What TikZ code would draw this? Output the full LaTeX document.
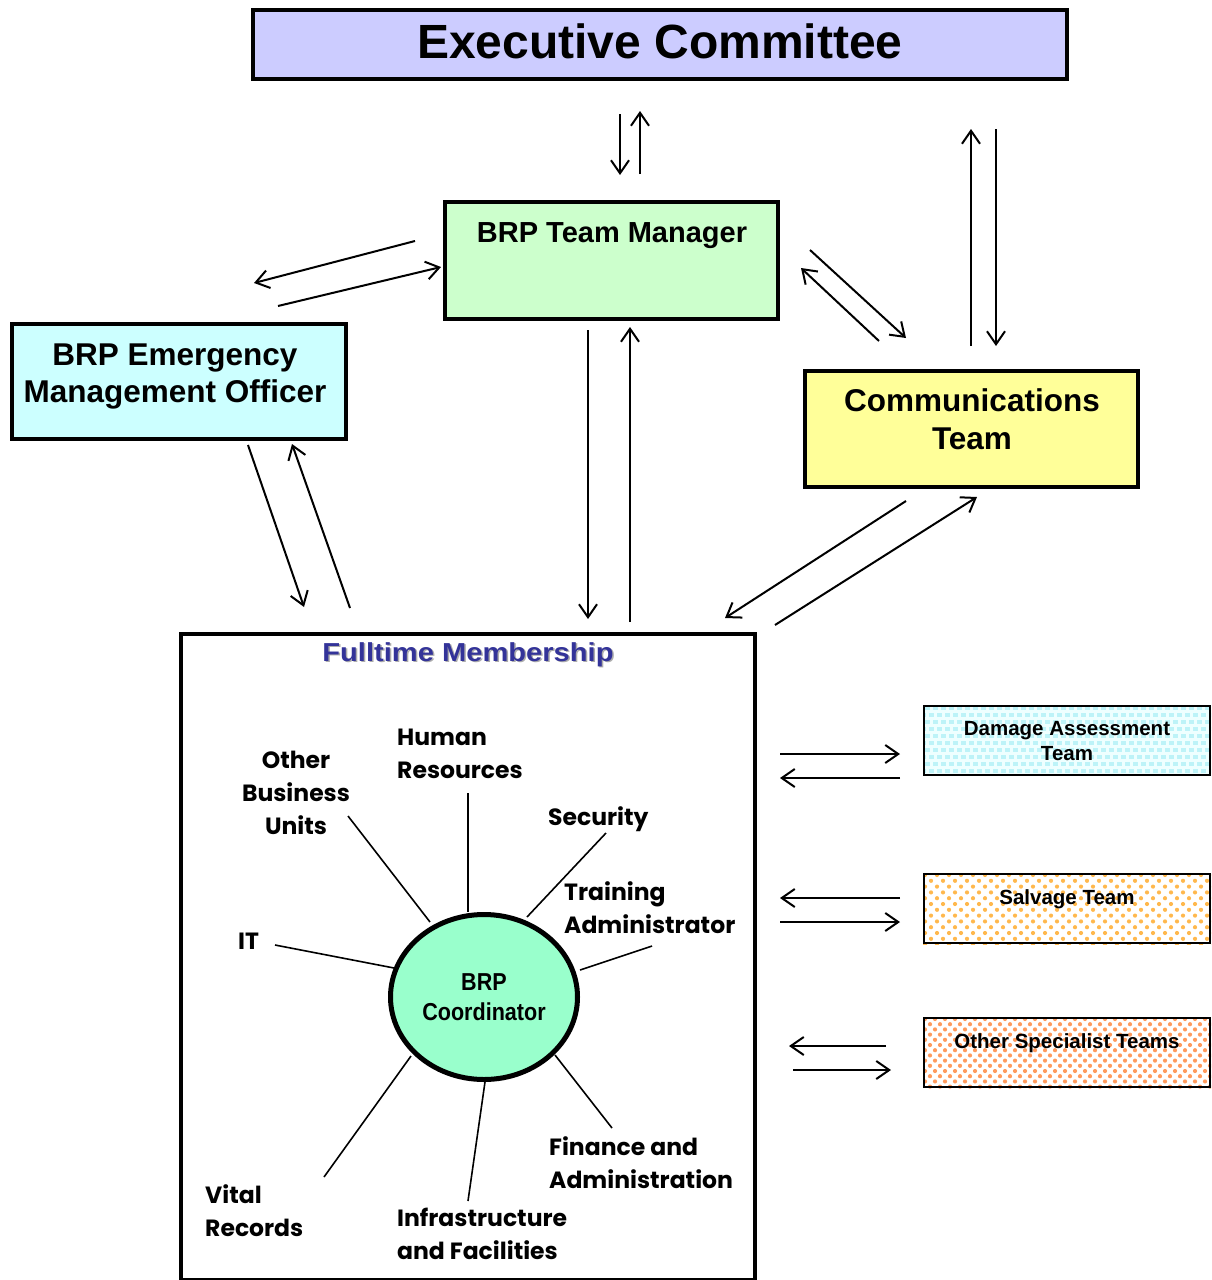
\documentclass[tikz,border=0pt]{standalone}
\usepackage{fontspec}
\setmainfont{Liberation Sans}
\newfontfamily\gothic{Poppins}
\newfontfamily\narrowsans[FakeStretch=0.88]{Liberation Sans}
\newfontfamily\widesans[FakeStretch=1.12]{Liberation Sans}
\usetikzlibrary{arrows.meta,backgrounds,shapes.geometric}

\definecolor{execfill}{HTML}{CCCCFF}
\definecolor{mgrfill}{HTML}{CCFFCC}
\definecolor{emofill}{HTML}{CCFFFF}
\definecolor{commfill}{HTML}{FFFF99}
\definecolor{coordfill}{HTML}{99FFCC}
\definecolor{titleblue}{HTML}{333399}
\definecolor{dmgbg}{HTML}{EEFFFF}
\definecolor{dmgdot}{HTML}{BDF3F8}
\definecolor{salvdot}{HTML}{FFB84D}
\definecolor{othdot}{HTML}{FF9A5C}

\tikzset{
  box/.style={draw, line width=4pt, inner sep=0pt},
  teambox/.style={draw, line width=2pt, inner sep=0pt, minimum width=286pt, minimum height=69pt},
  arr/.style={line width=2pt, -{Straight Barb[length=13pt,width=18pt]}},
  spoke/.style={line width=1.6pt},
  lbl/.style={inner sep=0pt, font=\gothic\bfseries\fontsize{23.5}{33}\selectfont},
  ttl/.style={inner sep=0pt, anchor=base},
}

\begin{document}
\begin{tikzpicture}[x=1pt,y=-1pt]
\useasboundingbox (0,0) rectangle (1212,1280);

% ---------- main boxes ----------
\node[box, fill=execfill, minimum width=814pt, minimum height=69pt] (exec) at (660,44.5) {};
\node[ttl, font=\bfseries\fontsize{48}{56}\selectfont] (exect) at (660,58) {Executive Committee};

\node[box, fill=mgrfill, minimum width=333pt, minimum height=117pt] (mgr) at (611.5,260.5) {};
\node[ttl, font=\bfseries\fontsize{29}{36}\selectfont] (mgrt) at (612,242) {BRP Team Manager};

\node[box, fill=emofill, minimum width=334pt, minimum height=115pt] (emo) at (179,381.5) {};
\node[ttl, font=\bfseries\fontsize{31.5}{37}\selectfont] (emot1) at (175,365) {BRP Emergency};
\node[ttl, font=\bfseries\fontsize{31.5}{37}\selectfont] (emot2) at (175,402) {Management Officer};

\node[box, fill=commfill, minimum width=333pt, minimum height=116pt] (comm) at (971.5,429) {};
\node[ttl, font=\bfseries\fontsize{31.5}{37}\selectfont] (commt1) at (972,411) {Communications};
\node[ttl, font=\bfseries\fontsize{31.5}{37}\selectfont] (commt2) at (972,449) {Team};

% ---------- fulltime membership ----------
\node[box, minimum width=574pt, minimum height=646pt] (ft) at (468,957) {};
\node[ttl, text=gray!65, font=\widesans\bfseries\fontsize{26}{30}\selectfont] (ftsh) at (469.5,662.5) {Fulltime Membership};
\node[ttl, text=titleblue, font=\widesans\bfseries\fontsize{26}{30}\selectfont] (ftt) at (468,661) {Fulltime Membership};

\node[draw, ellipse, line width=5pt, fill=coordfill, minimum width=187pt, minimum height=165pt, inner sep=0pt] (coord) at (484,997) {};
\node[ttl, font=\narrowsans\bfseries\fontsize{24.5}{28}\selectfont] (coordt1) at (484,990) {BRP};
\node[ttl, font=\narrowsans\bfseries\fontsize{24.5}{28}\selectfont] (coordt2) at (484,1020) {Coordinator};

% member labels
\node[lbl, align=left, anchor=north west] (hr) at (397,729) {Human\\Resources};
\node[lbl, align=center, anchor=north] (obu) at (296,751) {Other\\Business\\Units};
\node[lbl, align=left, anchor=north west] (sec) at (548,806) {Security};
\node[lbl, align=left, anchor=north west] (trn) at (564,881) {Training\\Administrator};
\node[lbl, align=left, anchor=north west] (it) at (238,933) {IT};
\node[lbl, align=left, anchor=north west] (vr) at (205,1184) {Vital\\Records};
\node[lbl, align=left, anchor=north west] (inf) at (397,1208) {Infrastructure\\and Facilities};
\node[lbl, align=left, anchor=north west] (fin) at (549,1136) {Finance and\\Administration};

% spokes from the labels to the coordinator
\coordinate (s-hr) at (468,793);   \coordinate (c-hr) at (468,912);
\coordinate (s-obu) at (348,816);  \coordinate (c-obu) at (430,922);
\coordinate (s-sec) at (606,833);  \coordinate (c-sec) at (527,917);
\coordinate (s-trn) at (652,946);  \coordinate (c-trn) at (580,970);
\coordinate (s-it) at (275,945);   \coordinate (c-it) at (394,968);
\coordinate (s-vr) at (324,1177);  \coordinate (c-vr) at (411,1056);
\coordinate (s-inf) at (468,1201); \coordinate (c-inf) at (485,1082);
\coordinate (s-fin) at (612,1128); \coordinate (c-fin) at (555,1055);
\foreach \k in {hr,obu,sec,trn,it,vr,inf,fin} \draw[spoke] (s-\k) -- (c-\k);

% ---------- specialist teams ----------
\node[teambox] (dmg) at (1067,740.5) {};
\node[ttl, font=\bfseries\fontsize{20.5}{25}\selectfont] (dmgt1) at (1067,735.5) {Damage Assessment};
\node[ttl, font=\bfseries\fontsize{20.5}{25}\selectfont] (dmgt2) at (1067,760.5) {Team};

\node[teambox] (salv) at (1067,908.5) {};
\node[ttl, font=\bfseries\fontsize{20.5}{25}\selectfont] (salvt) at (1067,904.5) {Salvage Team};

\node[teambox] (oth) at (1067,1052.5) {};
\node[ttl, font=\bfseries\fontsize{20.5}{25}\selectfont] (otht) at (1067,1048.5) {Other Specialist Teams};

% dotted fills behind the team boxes
\begin{scope}[on background layer]
  \begin{scope}
    \clip (dmg.south west) rectangle (dmg.north east);
    \fill[dmgbg] (dmg.south west) rectangle (dmg.north east);
    \foreach \j in {0,...,10} \foreach \i in {0,...,37}
      \fill[dmgdot] ({921+\i*8+mod(\j,2)*4},{703+\j*7}) rectangle ++(4.5pt,4.5pt);
  \end{scope}
  \begin{scope}
    \clip (salv.south west) rectangle (salv.north east);
    \foreach \j in {0,...,13} \foreach \i in {0,...,25}
      \fill[salvdot] ({925+\i*12+mod(\j,2)*6},{875+\j*5.8}) circle (2.1pt);
  \end{scope}
  \begin{scope}
    \clip (oth.south west) rectangle (oth.north east);
    \foreach \j in {0,...,14} \foreach \i in {0,...,30}
      \fill[othdot] ({925+\i*10+mod(\j,2)*5},{1019+\j*5.2}) circle (2.1pt);
  \end{scope}
\end{scope}

% ---------- connectors ----------
% executive committee <-> team manager
\coordinate (xm1) at (620,114); \coordinate (xm2) at (620,175);
\coordinate (mx1) at (640,174); \coordinate (mx2) at (640,111);
\draw[arr] (xm1) -- (xm2);
\draw[arr] (mx1) -- (mx2);

% team manager <-> emergency management officer
\coordinate (me1) at (415,241); \coordinate (me2) at (254,283);
\coordinate (em1) at (278,306); \coordinate (em2) at (441,267);
\draw[arr] (me1) -- (me2);
\draw[arr] (em1) -- (em2);

% team manager <-> communications team
\coordinate (mc1) at (810,250); \coordinate (mc2) at (906,338);
\coordinate (cm1) at (879,341); \coordinate (cm2) at (801,268);
\draw[arr] (mc1) -- (mc2);
\draw[arr] (cm1) -- (cm2);

% communications team <-> executive committee
\coordinate (cx1) at (971,346); \coordinate (cx2) at (971,129);
\coordinate (xc1) at (996,129); \coordinate (xc2) at (996,346);
\draw[arr] (cx1) -- (cx2);
\draw[arr] (xc1) -- (xc2);

% emergency management officer <-> fulltime membership
\coordinate (ef1) at (248,445); \coordinate (ef2) at (304,607);
\coordinate (fe1) at (350,608); \coordinate (fe2) at (292,444);
\draw[arr] (ef1) -- (ef2);
\draw[arr] (fe1) -- (fe2);

% team manager <-> fulltime membership
\coordinate (mf1) at (588,330); \coordinate (mf2) at (588,619);
\coordinate (fm1) at (630,622); \coordinate (fm2) at (630,327);
\draw[arr] (mf1) -- (mf2);
\draw[arr] (fm1) -- (fm2);

% communications team <-> fulltime membership
\coordinate (cf1) at (906,501); \coordinate (cf2) at (725,618);
\coordinate (fc1) at (775,625); \coordinate (fc2) at (977,497);
\draw[arr] (cf1) -- (cf2);
\draw[arr] (fc1) -- (fc2);

% fulltime membership <-> specialist teams
\coordinate (fd1) at (780,754); \coordinate (fd2) at (900,754);
\coordinate (df1) at (900,778); \coordinate (df2) at (780,778);
\draw[arr] (fd1) -- (fd2);
\draw[arr] (df1) -- (df2);

\coordinate (sf1) at (900,898); \coordinate (sf2) at (780,898);
\coordinate (fs1) at (780,922); \coordinate (fs2) at (900,922);
\draw[arr] (sf1) -- (sf2);
\draw[arr] (fs1) -- (fs2);

\coordinate (of1) at (886,1046); \coordinate (of2) at (789,1046);
\coordinate (fo1) at (793,1070); \coordinate (fo2) at (891,1070);
\draw[arr] (of1) -- (of2);
\draw[arr] (fo1) -- (fo2);

\end{tikzpicture}
\end{document}
